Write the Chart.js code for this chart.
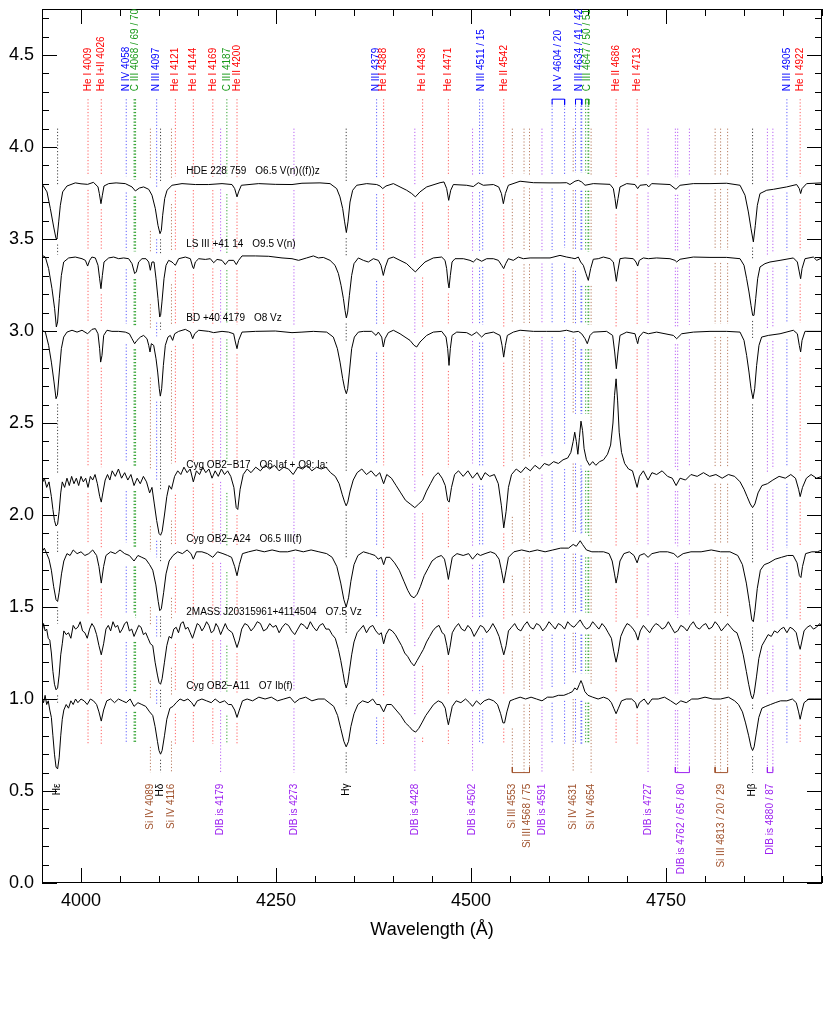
<!DOCTYPE html>
<html><head><meta charset="utf-8">
<script src="https://cdn.jsdelivr.net/npm/chart.js@4.4.1/dist/chart.umd.min.js"></script>
<style>html,body{margin:0;padding:0;background:#fff;}#wrap{width:830px;height:1017px;}</style>
</head><body><div id="wrap"><canvas id="c" width="830" height="1017"></canvas></div>
<script>
// ---------------- DATA ----------------
const xLimits = [3950, 4950];
const yLimits = [0, 4.75];
const xMajorTicks = [4000, 4250, 4500, 4750];
const yMajorTicks = [0, 0.5, 1.0, 1.5, 2.0, 2.5, 3.0, 3.5, 4.0, 4.5];

const starNames = ['HDE 228 759', 'LS III +41 14', 'BD +40 4179', 'Cyg OB2\u2212B17', 'Cyg OB2\u2212A24', '2MASS J20315961+4114504', 'Cyg OB2\u2212A11'];
const spectralTypes = ['O6.5 V(n)((f))z', 'O9.5 V(n)', 'O8 Vz', 'O6 Iaf + O9: Ia:', 'O6.5 III(f)', 'O7.5 Vz', 'O7 Ib(f)'];
const continuumLevels = [3.8, 3.4, 3.0, 2.2, 1.8, 1.4, 1.0];

const specHDE228759 = [[3950,3.80],[3956.4,3.756],[3960.7,3.665],[3965,3.565],[3968,3.502],[3969.2,3.50],[3971.4,3.593],[3973.5,3.683],[3976.5,3.756],[3982,3.788],[3992.7,3.805],[4000,3.80],[4008.5,3.797],[4016,3.808],[4021.8,3.783],[4023.5,3.747],[4025.6,3.692],[4027.4,3.738],[4029.5,3.788],[4035.5,3.801],[4045,3.805],[4056.8,3.801],[4065.4,3.783],[4069.7,3.761],[4074.8,3.777],[4080.3,3.783],[4086.8,3.77],[4091,3.738],[4095.3,3.665],[4098.7,3.574],[4101.3,3.529],[4103,3.547],[4104.7,3.629],[4107.3,3.72],[4110.3,3.765],[4116.7,3.792],[4129.5,3.801],[4146.6,3.796],[4163.7,3.796],[4180.8,3.801],[4193.6,3.796],[4197,3.774],[4200,3.729],[4202,3.756],[4205.6,3.792],[4227.8,3.801],[4249,3.797],[4270.5,3.796],[4283.3,3.803],[4306.4,3.805],[4319.3,3.801],[4327.8,3.774],[4332,3.729],[4335.5,3.665],[4338,3.593],[4340.2,3.535],[4342.3,3.593],[4344.9,3.701],[4348.3,3.765],[4353.5,3.792],[4366.3,3.801],[4379.1,3.796],[4383.4,3.788],[4386.8,3.774],[4391,3.788],[4400.5,3.801],[4409,3.783],[4417.5,3.765],[4424,3.747],[4428.7,3.729],[4434.6,3.756],[4443.2,3.783],[4460.3,3.806],[4465.4,3.81],[4468.8,3.774],[4471.4,3.71],[4474,3.765],[4477.4,3.796],[4494.5,3.792],[4503,3.785],[4509.4,3.806],[4515.8,3.792],[4528.7,3.796],[4535.5,3.783],[4539,3.747],[4541.5,3.692],[4544.1,3.747],[4547.9,3.792],[4562.9,3.814],[4580,3.806],[4600,3.805],[4614.1,3.805],[4622.6,3.806],[4626.9,3.796],[4633.3,3.814],[4637.6,3.819],[4641.9,3.81],[4646.2,3.792],[4656.8,3.801],[4678.2,3.797],[4682.5,3.774],[4684.6,3.72],[4686.3,3.665],[4688.5,3.72],[4691,3.783],[4699.6,3.801],[4710.3,3.796],[4713.7,3.774],[4716.7,3.792],[4725.2,3.796],[4727.8,3.783],[4731.6,3.801],[4755.1,3.796],[4762.8,3.77],[4768,3.792],[4785,3.801],[4806.4,3.801],[4827.8,3.803],[4844.9,3.792],[4851.3,3.738],[4855.6,3.647],[4859,3.556],[4862,3.484],[4864.5,3.574],[4867.1,3.683],[4870.5,3.747],[4879.1,3.765],[4887.6,3.77],[4904.7,3.783],[4917.5,3.796],[4920.9,3.774],[4922.6,3.747],[4924.4,3.774],[4930.3,3.801],[4950,3.805]];

const specLSIII4114 = [[3950,3.411],[3954.3,3.402],[3958.5,3.339],[3962.8,3.23],[3966.2,3.121],[3968.4,3.022],[3970,3.049],[3972.2,3.176],[3974.8,3.302],[3977.8,3.375],[3984.2,3.397],[3992.7,3.402],[4001.3,3.393],[4005.6,3.384],[4008.5,3.353],[4011.1,3.384],[4014,3.402],[4018.4,3.397],[4021.8,3.357],[4023.9,3.284],[4025.6,3.23],[4027.4,3.302],[4029.5,3.375],[4035.5,3.397],[4041.9,3.402],[4048.3,3.393],[4054.7,3.397],[4061.1,3.393],[4065.4,3.366],[4068.8,3.312],[4070.9,3.321],[4073.9,3.375],[4078.2,3.393],[4083.3,3.393],[4086.8,3.375],[4088.9,3.33],[4091,3.375],[4093.6,3.375],[4096.2,3.284],[4098.7,3.176],[4100.9,3.076],[4102.1,3.085],[4103.8,3.158],[4106.4,3.284],[4109,3.357],[4112.4,3.384],[4116.7,3.375],[4118.8,3.366],[4121,3.357],[4125.2,3.393],[4133.8,3.402],[4140.2,3.393],[4143.2,3.348],[4144.4,3.339],[4146.6,3.375],[4150.9,3.393],[4159.4,3.389],[4165.8,3.393],[4170.1,3.371],[4174.4,3.389],[4180.8,3.384],[4185,3.361],[4189.3,3.384],[4195.7,3.384],[4199.1,3.361],[4202.1,3.384],[4206.4,3.408],[4223.5,3.408],[4240.6,3.406],[4257.7,3.397],[4270.5,3.393],[4279,3.384],[4289.3,3.397],[4297.9,3.408],[4304.3,3.397],[4310.7,3.4],[4319.3,3.384],[4325.7,3.357],[4330,3.312],[4333.4,3.248],[4336.4,3.176],[4338.5,3.112],[4340.2,3.071],[4341.9,3.103],[4344.1,3.194],[4347,3.302],[4350,3.366],[4355.6,3.397],[4362,3.384],[4368.4,3.375],[4374.8,3.393],[4381.2,3.384],[4384.6,3.357],[4387.6,3.302],[4390.2,3.348],[4394,3.393],[4400.5,3.402],[4409,3.384],[4417.5,3.366],[4424,3.339],[4428.7,3.321],[4434.6,3.348],[4441,3.375],[4451.7,3.397],[4462.4,3.402],[4466.7,3.384],[4468.8,3.339],[4470.5,3.266],[4471.8,3.234],[4473.5,3.302],[4475.7,3.375],[4479.5,3.393],[4490.2,3.393],[4498.7,3.384],[4503,3.375],[4507.3,3.393],[4513.7,3.379],[4520.1,3.393],[4528.7,3.393],[4535.1,3.384],[4539.3,3.357],[4541.9,3.339],[4544.5,3.366],[4547.9,3.393],[4554.3,3.384],[4560.7,3.402],[4567.1,3.393],[4575.7,3.397],[4588.5,3.397],[4601.3,3.397],[4614.1,3.411],[4622.6,3.402],[4629,3.397],[4633.3,3.393],[4637.6,3.402],[4640.6,3.375],[4644,3.357],[4647.4,3.312],[4650.4,3.275],[4653.4,3.339],[4656.8,3.39],[4663.2,3.393],[4669.7,3.402],[4678.2,3.393],[4682.5,3.375],[4684.6,3.321],[4686.3,3.27],[4688,3.321],[4691,3.393],[4697.4,3.397],[4708.1,3.393],[4711.5,3.375],[4713.7,3.353],[4715.8,3.384],[4720.9,3.397],[4727.4,3.393],[4738,3.397],[4755.1,3.393],[4761.5,3.384],[4763.7,3.375],[4768,3.39],[4785,3.402],[4806.4,3.4],[4827.8,3.4],[4844.9,3.393],[4850,3.357],[4853.4,3.284],[4856.4,3.212],[4859,3.139],[4861.1,3.085],[4862.8,3.085],[4865,3.176],[4867.5,3.284],[4870.5,3.348],[4876.9,3.366],[4883.3,3.375],[4896.2,3.384],[4913.3,3.397],[4918.4,3.375],[4920.9,3.321],[4922.6,3.284],[4924.4,3.339],[4928.2,3.393],[4938.9,3.402],[4943.2,3.384],[4950,3.397]];

const specBD404179 = [[3950,3.004],[3954.3,2.994],[3958.5,2.922],[3962,2.831],[3965.4,2.723],[3968,2.632],[3969.7,2.65],[3972.2,2.777],[3974.8,2.904],[3977.8,2.967],[3982,2.994],[3988.5,3.004],[3994.9,2.994],[4001.3,3.004],[4008.5,2.985],[4014.1,3.009],[4018.4,3.013],[4021.8,2.985],[4023.9,2.904],[4025.2,2.831],[4026.9,2.867],[4029.1,2.976],[4033.3,3.004],[4039.7,2.998],[4048.3,2.998],[4056.8,2.994],[4062,2.985],[4065.4,2.958],[4068.8,2.931],[4071.8,2.949],[4076.1,2.967],[4080.3,2.976],[4084.6,2.958],[4086.8,2.922],[4088.5,2.886],[4090.2,2.931],[4093.2,2.922],[4096.2,2.849],[4098.3,2.777],[4100.4,2.686],[4101.7,2.646],[4103.4,2.686],[4105.6,2.813],[4108.1,2.922],[4111.5,2.967],[4114.5,2.976],[4117.5,2.949],[4120.1,2.985],[4125.2,2.998],[4133.8,3.009],[4140.2,2.994],[4143.2,2.958],[4145.7,2.985],[4150.9,3.004],[4163.7,2.998],[4170.1,2.991],[4180.8,2.998],[4189.3,2.994],[4195.7,2.985],[4197.9,2.94],[4200,2.904],[4202.1,2.949],[4206.4,2.994],[4223.5,2.998],[4249.1,3.0],[4270.5,2.991],[4283.3,2.994],[4297.9,2.998],[4315,2.994],[4323.5,2.967],[4328.7,2.904],[4332.1,2.831],[4335.5,2.741],[4338.1,2.686],[4340.2,2.659],[4341.9,2.686],[4344.1,2.777],[4347,2.904],[4350.5,2.967],[4355.6,2.994],[4362,2.998],[4372.7,2.998],[4378.2,2.976],[4381.2,2.994],[4385.5,2.967],[4387.6,2.913],[4389.8,2.958],[4394,2.991],[4400.5,3.004],[4409,2.985],[4415.4,2.967],[4421.8,2.949],[4427,2.922],[4430.4,2.913],[4434.6,2.94],[4443.2,2.976],[4451.7,2.994],[4462.4,2.998],[4468,2.967],[4470.1,2.904],[4471.8,2.813],[4473.5,2.904],[4475.7,2.976],[4481.7,2.994],[4494.5,2.991],[4500.9,2.976],[4507.3,2.994],[4513.7,2.967],[4518,2.985],[4528.7,2.994],[4537.2,2.976],[4539.8,2.922],[4541.9,2.858],[4544.1,2.922],[4546.6,2.976],[4554.3,2.994],[4562.9,3.004],[4580,2.998],[4597,2.998],[4614.1,2.998],[4622.6,3.004],[4631.2,2.994],[4637.6,2.998],[4641.9,2.985],[4646.2,2.958],[4649.1,2.931],[4652.6,2.976],[4656.8,2.994],[4673.9,2.998],[4681.6,2.976],[4684.2,2.886],[4686.3,2.795],[4688.5,2.886],[4691,2.976],[4699.6,2.994],[4710.3,2.985],[4712.4,2.949],[4713.7,2.931],[4715.4,2.967],[4720.9,2.994],[4727.4,2.985],[4738,2.994],[4759.4,2.976],[4763.7,2.958],[4770.1,2.985],[4785,2.994],[4806.4,2.998],[4827.8,2.998],[4844.9,2.994],[4850,2.949],[4853.4,2.867],[4856.4,2.777],[4859,2.686],[4861.5,2.632],[4863.7,2.686],[4866.2,2.813],[4869.2,2.922],[4872.6,2.967],[4881.2,2.976],[4896.2,2.985],[4913.3,3.004],[4918.4,2.985],[4920.9,2.922],[4922.6,2.886],[4924.4,2.949],[4928.2,2.998],[4950,2.998]];

const specCygB17 = [[3950,2.17],[3953,2.20],[3956,2.15],[3959,2.18],[3962,2.10],[3964,2.03],[3966,1.97],[3968,1.94],[3970,1.95],[3972,2.02],[3974,2.12],[3976,2.18],[3979,2.15],[3982,2.20],[3985,2.16],[3988,2.21],[3991,2.17],[3994,2.20],[3997,2.16],[4000,2.21],[4003,2.18],[4006,2.20],[4009,2.15],[4012,2.21],[4015,2.19],[4018,2.22],[4021,2.17],[4024,2.10],[4026,2.07],[4028,2.12],[4031,2.19],[4034,2.22],[4037,2.19],[4040,2.24],[4044,2.21],[4048,2.25],[4052,2.20],[4056,2.23],[4060,2.19],[4064,2.22],[4068,2.16],[4072,2.20],[4076,2.17],[4080,2.21],[4084,2.18],[4088,2.12],[4091,2.15],[4094,2.06],[4097,1.97],[4100,1.90],[4102,1.89],[4104,1.91],[4107,2.00],[4110,2.10],[4113,2.16],[4116,2.14],[4120,2.21],[4124,2.24],[4128,2.22],[4132,2.26],[4136,2.23],[4140,2.25],[4144,2.18],[4148,2.24],[4152,2.22],[4156,2.26],[4160,2.23],[4164,2.25],[4168,2.20],[4172,2.24],[4176,2.21],[4180,2.25],[4184,2.22],[4188,2.24],[4192,2.21],[4196,2.15],[4199,2.04],[4201,2.03],[4204,2.14],[4208,2.22],[4213,2.25],[4218,2.23],[4224,2.26],[4230,2.24],[4236,2.27],[4242,2.25],[4248,2.27],[4254,2.24],[4260,2.26],[4266,2.25],[4272,2.22],[4278,2.26],[4284,2.25],[4290,2.27],[4296,2.24],[4302,2.26],[4308,2.25],[4314,2.26],[4320,2.23],[4326,2.21],[4331,2.17],[4335,2.11],[4338,2.07],[4340,2.05],[4342,2.07],[4345,2.13],[4349,2.19],[4354,2.23],[4360,2.25],[4366,2.22],[4372,2.24],[4378,2.21],[4383,2.23],[4388,2.17],[4392,2.22],[4398,2.20],[4404,2.16],[4410,2.12],[4416,2.08],[4422,2.06],[4428,2.04],[4433,2.06],[4438,2.08],[4443,2.13],[4448,2.17],[4453,2.21],[4458,2.23],[4463,2.20],[4467,2.16],[4470,2.08],[4472,2.07],[4475,2.15],[4479,2.22],[4484,2.24],[4490,2.21],[4496,2.24],[4502,2.20],[4508,2.23],[4513,2.19],[4518,2.23],[4524,2.21],[4530,2.22],[4535,2.17],[4539,2.05],[4542,1.93],[4545,2.02],[4548,2.15],[4552,2.22],[4558,2.25],[4564,2.23],[4570,2.26],[4576,2.24],[4582,2.27],[4588,2.25],[4594,2.28],[4600,2.27],[4606,2.29],[4612,2.28],[4618,2.30],[4624,2.31],[4628,2.34],[4631,2.40],[4633,2.45],[4635,2.40],[4637,2.33],[4639,2.42],[4641,2.51],[4643,2.46],[4645,2.36],[4648,2.30],[4652,2.27],[4656,2.29],[4660,2.27],[4665,2.29],[4670,2.30],[4675,2.33],[4679,2.38],[4682,2.50],[4684,2.65],[4686,2.74],[4688,2.62],[4690,2.45],[4693,2.34],[4697,2.28],[4702,2.25],[4707,2.24],[4711,2.18],[4713,2.15],[4716,2.21],[4721,2.24],[4727,2.19],[4732,2.23],[4738,2.22],[4745,2.24],[4752,2.21],[4758,2.20],[4763,2.16],[4768,2.20],[4775,2.19],[4782,2.22],[4790,2.21],[4798,2.23],[4806,2.21],[4814,2.22],[4822,2.20],[4830,2.22],[4838,2.21],[4845,2.18],[4850,2.14],[4854,2.10],[4858,2.06],[4861,2.04],[4864,2.06],[4868,2.12],[4873,2.16],[4880,2.17],[4887,2.19],[4895,2.21],[4903,2.20],[4910,2.22],[4916,2.20],[4920,2.14],[4922,2.10],[4925,2.15],[4930,2.20],[4936,2.22],[4943,2.20],[4950,2.21]];

const specCygA24 = [[3950,1.80],[3953,1.82],[3956,1.79],[3959,1.76],[3962,1.70],[3965,1.61],[3968,1.54],[3970,1.53],[3972,1.58],[3975,1.68],[3978,1.75],[3982,1.79],[3986,1.78],[3990,1.81],[3995,1.79],[4000,1.80],[4005,1.78],[4010,1.79],[4015,1.81],[4020,1.78],[4023,1.72],[4026,1.63],[4029,1.72],[4032,1.78],[4038,1.80],[4044,1.79],[4050,1.81],[4056,1.79],[4062,1.78],[4068,1.75],[4073,1.78],[4078,1.77],[4083,1.76],[4088,1.73],[4092,1.70],[4096,1.62],[4099,1.53],[4101,1.48],[4103,1.49],[4106,1.58],[4109,1.68],[4113,1.75],[4118,1.78],[4124,1.80],[4130,1.79],[4136,1.81],[4141,1.79],[4144,1.76],[4148,1.80],[4155,1.80],[4162,1.79],[4169,1.77],[4175,1.80],[4182,1.79],[4188,1.78],[4193,1.77],[4197,1.72],[4200,1.67],[4203,1.73],[4207,1.79],[4215,1.80],[4225,1.81],[4235,1.80],[4245,1.81],[4255,1.80],[4265,1.80],[4275,1.81],[4285,1.80],[4295,1.81],[4305,1.80],[4315,1.79],[4322,1.77],[4328,1.72],[4333,1.63],[4337,1.54],[4340,1.50],[4343,1.55],[4346,1.64],[4350,1.73],[4355,1.78],[4362,1.80],[4370,1.79],[4377,1.78],[4381,1.76],[4385,1.77],[4388,1.73],[4391,1.77],[4396,1.77],[4402,1.74],[4408,1.70],[4414,1.64],[4419,1.59],[4423,1.56],[4427,1.55],[4431,1.57],[4435,1.61],[4440,1.67],[4445,1.71],[4450,1.75],[4456,1.77],[4462,1.78],[4466,1.76],[4469,1.70],[4471,1.65],[4473,1.70],[4476,1.77],[4482,1.79],[4490,1.78],[4497,1.79],[4502,1.76],[4508,1.79],[4512,1.78],[4518,1.79],[4525,1.80],[4531,1.79],[4536,1.76],[4539,1.70],[4542,1.63],[4545,1.70],[4548,1.77],[4555,1.80],[4565,1.81],[4575,1.80],[4585,1.81],[4595,1.80],[4605,1.81],[4615,1.82],[4625,1.82],[4631,1.84],[4635,1.83],[4640,1.86],[4643,1.84],[4648,1.81],[4655,1.80],[4663,1.80],[4670,1.80],[4677,1.79],[4681,1.75],[4684,1.68],[4686,1.63],[4688,1.67],[4691,1.75],[4696,1.79],[4703,1.80],[4709,1.78],[4713,1.74],[4716,1.78],[4722,1.79],[4727,1.77],[4732,1.79],[4742,1.80],[4752,1.80],[4760,1.79],[4765,1.77],[4772,1.79],[4782,1.80],[4795,1.80],[4808,1.81],[4820,1.80],[4832,1.80],[4842,1.78],[4848,1.73],[4853,1.63],[4857,1.52],[4860,1.43],[4862,1.42],[4864,1.48],[4867,1.60],[4871,1.70],[4876,1.73],[4882,1.74],[4890,1.76],[4898,1.77],[4906,1.78],[4913,1.78],[4918,1.74],[4921,1.67],[4923,1.66],[4925,1.72],[4929,1.79],[4937,1.80],[4944,1.80],[4950,1.81]];

const spec2MASS = [[3950,1.36],[3952,1.41],[3954,1.37],[3956,1.38],[3958,1.33],[3960,1.32],[3962,1.25],[3964,1.15],[3966,1.08],[3968,1.05],[3970,1.06],[3972,1.13],[3974,1.24],[3976,1.30],[3978,1.37],[3981,1.35],[3984,1.36],[3987,1.33],[3990,1.40],[3993,1.38],[3996,1.39],[3999,1.42],[4002,1.37],[4005,1.36],[4008,1.33],[4011,1.38],[4014,1.41],[4017,1.39],[4020,1.35],[4023,1.29],[4026,1.24],[4029,1.30],[4032,1.38],[4035,1.40],[4038,1.37],[4041,1.42],[4044,1.39],[4047,1.40],[4050,1.36],[4053,1.38],[4056,1.41],[4059,1.42],[4062,1.37],[4065,1.38],[4068,1.34],[4071,1.37],[4074,1.40],[4077,1.39],[4080,1.35],[4083,1.36],[4086,1.33],[4089,1.30],[4092,1.29],[4095,1.20],[4098,1.13],[4100,1.09],[4102,1.08],[4104,1.11],[4107,1.20],[4110,1.29],[4113,1.34],[4116,1.33],[4119,1.38],[4122,1.39],[4125,1.36],[4128,1.41],[4131,1.42],[4134,1.38],[4137,1.39],[4140,1.36],[4143,1.33],[4146,1.37],[4149,1.41],[4152,1.40],[4155,1.37],[4158,1.39],[4161,1.42],[4164,1.40],[4167,1.36],[4170,1.37],[4173,1.41],[4176,1.39],[4179,1.35],[4182,1.38],[4185,1.41],[4188,1.38],[4191,1.37],[4194,1.36],[4197,1.32],[4200,1.28],[4203,1.32],[4206,1.38],[4210,1.41],[4214,1.40],[4218,1.37],[4222,1.39],[4226,1.42],[4230,1.41],[4234,1.37],[4238,1.38],[4242,1.41],[4246,1.39],[4250,1.40],[4254,1.36],[4258,1.39],[4262,1.41],[4266,1.40],[4270,1.37],[4274,1.35],[4278,1.38],[4282,1.41],[4286,1.40],[4290,1.38],[4294,1.42],[4298,1.39],[4302,1.37],[4306,1.40],[4310,1.41],[4314,1.38],[4318,1.38],[4322,1.35],[4326,1.33],[4330,1.27],[4333,1.21],[4336,1.14],[4338,1.09],[4340,1.06],[4342,1.09],[4344,1.15],[4347,1.24],[4350,1.31],[4354,1.36],[4358,1.38],[4362,1.40],[4366,1.36],[4370,1.39],[4374,1.40],[4378,1.37],[4382,1.35],[4385,1.36],[4388,1.30],[4391,1.35],[4395,1.38],[4399,1.37],[4403,1.35],[4407,1.32],[4411,1.29],[4415,1.25],[4419,1.23],[4423,1.20],[4427,1.18],[4431,1.21],[4435,1.24],[4439,1.27],[4443,1.31],[4447,1.34],[4451,1.37],[4455,1.39],[4459,1.40],[4463,1.36],[4466,1.35],[4469,1.29],[4471,1.24],[4473,1.28],[4476,1.36],[4480,1.39],[4484,1.41],[4488,1.38],[4492,1.37],[4496,1.40],[4500,1.38],[4504,1.34],[4508,1.37],[4512,1.40],[4516,1.39],[4520,1.36],[4524,1.38],[4528,1.41],[4532,1.38],[4536,1.34],[4539,1.29],[4542,1.24],[4545,1.29],[4548,1.37],[4552,1.39],[4556,1.41],[4560,1.38],[4564,1.37],[4568,1.40],[4572,1.42],[4576,1.39],[4580,1.38],[4584,1.41],[4588,1.40],[4592,1.37],[4596,1.39],[4600,1.42],[4604,1.40],[4608,1.38],[4612,1.41],[4616,1.40],[4620,1.38],[4624,1.42],[4628,1.40],[4632,1.39],[4636,1.41],[4640,1.43],[4644,1.40],[4648,1.38],[4652,1.39],[4656,1.42],[4660,1.40],[4664,1.38],[4668,1.41],[4672,1.39],[4676,1.36],[4680,1.33],[4683,1.26],[4686,1.20],[4689,1.26],[4692,1.34],[4696,1.38],[4700,1.41],[4704,1.40],[4708,1.38],[4711,1.36],[4714,1.32],[4717,1.37],[4721,1.40],[4725,1.38],[4729,1.36],[4733,1.39],[4737,1.41],[4741,1.40],[4745,1.38],[4749,1.39],[4753,1.42],[4757,1.39],[4761,1.36],[4765,1.37],[4769,1.40],[4773,1.39],[4777,1.37],[4781,1.40],[4785,1.42],[4789,1.39],[4793,1.38],[4797,1.40],[4801,1.41],[4805,1.38],[4809,1.39],[4813,1.42],[4817,1.40],[4821,1.37],[4825,1.39],[4829,1.41],[4833,1.39],[4837,1.37],[4841,1.36],[4845,1.31],[4849,1.24],[4853,1.15],[4856,1.08],[4859,1.02],[4861,1.00],[4863,1.03],[4866,1.12],[4869,1.22],[4873,1.29],[4877,1.32],[4881,1.35],[4885,1.34],[4889,1.37],[4893,1.36],[4897,1.38],[4901,1.39],[4905,1.36],[4909,1.39],[4913,1.38],[4917,1.36],[4920,1.30],[4922,1.27],[4924,1.31],[4927,1.37],[4931,1.39],[4935,1.40],[4939,1.38],[4943,1.39],[4947,1.41],[4950,1.39]];

const specCygA11 = [[3950,1.01],[3952,0.98],[3954,1.02],[3956,0.97],[3958,0.99],[3960,0.94],[3962,0.90],[3964,0.80],[3966,0.70],[3968,0.63],[3970,0.62],[3972,0.68],[3974,0.80],[3976,0.89],[3978,0.94],[3981,0.97],[3984,0.95],[3987,0.99],[3990,0.97],[3993,1.00],[3996,0.98],[4000,1.00],[4004,0.99],[4008,0.97],[4012,1.00],[4016,0.99],[4020,0.97],[4023,0.93],[4026,0.88],[4029,0.94],[4033,0.99],[4038,1.00],[4043,0.98],[4048,1.00],[4053,0.99],[4058,0.98],[4063,1.00],[4068,0.96],[4073,0.98],[4078,0.97],[4083,0.96],[4088,0.93],[4092,0.91],[4095,0.85],[4098,0.77],[4100,0.72],[4102,0.70],[4104,0.72],[4107,0.80],[4110,0.89],[4114,0.95],[4118,0.96],[4122,0.98],[4127,1.00],[4132,0.99],[4137,1.00],[4142,0.98],[4145,0.96],[4149,0.99],[4155,1.00],[4161,0.99],[4167,0.98],[4172,1.00],[4178,0.98],[4184,0.99],[4189,0.97],[4193,0.97],[4197,0.94],[4200,0.90],[4203,0.94],[4207,0.99],[4213,1.00],[4220,0.99],[4228,1.01],[4236,1.00],[4244,1.01],[4252,0.99],[4260,1.00],[4268,1.01],[4274,0.98],[4280,1.00],[4288,1.01],[4296,0.99],[4304,1.00],[4312,1.00],[4318,0.98],[4324,0.96],[4329,0.91],[4333,0.84],[4337,0.77],[4340,0.74],[4343,0.77],[4346,0.85],[4350,0.92],[4355,0.97],[4361,0.99],[4368,0.98],[4374,1.00],[4379,0.97],[4383,0.97],[4388,0.93],[4392,0.97],[4398,0.97],[4404,0.94],[4410,0.91],[4416,0.87],[4421,0.85],[4425,0.83],[4429,0.82],[4433,0.84],[4437,0.87],[4442,0.91],[4447,0.94],[4452,0.97],[4458,0.99],[4463,0.98],[4467,0.95],[4469,0.90],[4471,0.86],[4473,0.90],[4476,0.96],[4481,0.99],[4487,0.98],[4493,1.00],[4498,0.98],[4502,0.96],[4507,0.99],[4512,0.97],[4517,0.99],[4523,1.00],[4529,0.99],[4534,0.97],[4538,0.92],[4541,0.87],[4543,0.87],[4546,0.93],[4550,0.99],[4556,1.00],[4563,1.01],[4570,1.00],[4577,1.01],[4584,1.00],[4591,0.99],[4598,1.01],[4605,1.01],[4612,1.02],[4619,1.02],[4625,1.03],[4630,1.04],[4633,1.06],[4636,1.05],[4639,1.08],[4641,1.10],[4643,1.08],[4646,1.04],[4650,1.02],[4656,1.01],[4663,1.00],[4670,1.01],[4676,1.00],[4680,0.98],[4683,0.95],[4686,0.92],[4689,0.95],[4693,0.99],[4699,1.00],[4706,1.00],[4711,0.98],[4713,0.95],[4716,0.98],[4722,1.00],[4727,0.97],[4732,1.00],[4740,1.00],[4748,1.01],[4756,0.99],[4763,0.97],[4769,0.99],[4776,0.98],[4783,1.00],[4791,1.00],[4800,1.01],[4810,1.00],[4820,1.00],[4830,1.01],[4838,0.99],[4843,0.97],[4848,0.93],[4852,0.87],[4856,0.80],[4859,0.74],[4861,0.72],[4863,0.74],[4866,0.82],[4869,0.90],[4873,0.95],[4878,0.96],[4884,0.97],[4890,0.98],[4897,0.99],[4905,0.99],[4912,1.00],[4917,0.98],[4920,0.93],[4922,0.89],[4924,0.93],[4927,0.98],[4933,1.00],[4940,1.00],[4950,1.00]];

const spectra = [specHDE228759, specLSIII4114, specBD404179, specCygB17, specCygA24, spec2MASS, specCygA11];

// line identifications (upper set)
const topLabels = ['He I 4009','He I+II 4026','N IV 4058','C III 4068 / 69 / 70','N III 4097','He I 4121','He I 4144','He I 4169','C III 4187','He II 4200','N III 4379','He I 4388','He I 4438','He I 4471','N III 4511 / 15','He II 4542','N V 4604 / 20','N III 4634 / 41 / 42','C III 4647 / 50 / 51','He II 4686','He I 4713','N III 4905','He I 4922'];
const topWaves = [[4009],[4026],[4058],[4068,4069,4070],[4097],[4121],[4144],[4169],[4187],[4200],[4379],[4388],[4438],[4471],[4511,4515],[4542],[4604,4620],[4634,4641,4642],[4647,4650,4651],[4686],[4713],[4905],[4922]];
const topSpecies = ['He','He','N','C','N','He','He','He','C','He','N','He','He','He','N','He','N','N','C','He','He','N','He'];
const topBrackets = [[4604,4620,'N'],[4634,4642,'N'],[4647,4651,'C']];

// lower set (hydrogen, Si, DIBs)
const bottomLabels = ['H\u03b5','Si IV 4089','H\u03b4','Si IV 4116','DIB is 4179','DIB is 4273','H\u03b3','DIB is 4428','DIB is 4502','Si III 4553','Si III 4568 / 75','DIB is 4591','Si IV 4631','Si IV 4654','DIB is 4727','DIB is 4762 / 65 / 80','Si III 4813 / 20 / 29','H\u03b2','DIB is 4880 / 87'];
const bottomWaves = [[3970],[4089],[4102],[4116],[4179],[4273],[4340],[4428],[4502],[4553],[4568,4575],[4591],[4631],[4654],[4727],[4762,4765,4780],[4813,4820,4829],[4861],[4880,4887]];
const bottomSpecies = ['H','Si','H','Si','DIB','DIB','H','DIB','DIB','Si','Si','DIB','Si','Si','DIB','DIB','Si','H','DIB'];
const bottomBrackets = [[4553,4575,'Si'],[4762,4780,'DIB'],[4813,4829,'Si'],[4880,4887,'DIB']];

// ---------------- STYLE ----------------
const textColor = {He:'#ff0000', N:'#0000ff', C:'#1a9a1a', H:'#000000', Si:'#a0522d', DIB:'#9b1ff0'};
const lineColor = {He:'rgba(255,40,40,0.75)', N:'rgba(40,40,255,0.75)', C:'rgba(20,150,20,0.9)', H:'rgba(0,0,0,0.75)', Si:'rgba(160,82,45,0.75)', DIB:'rgba(155,31,240,0.7)'};
const TOP_START = 4.26, TOP_END = 0.756, BOT_START = 4.10, BOT_END = 0.60;
const FONT = "'Liberation Sans Narrow','Liberation Sans',Arial,sans-serif";

function gapFor(spec, lam) {
  let lo = Infinity, hi = -Infinity;
  for (let i = 0; i < spec.length; i++) {
    const [w, f] = spec[i];
    if (Math.abs(w - lam) <= 10) { lo = Math.min(lo, f); hi = Math.max(hi, f); }
    if (i > 0 && spec[i-1][0] <= lam && w >= lam) {
      const t = (lam - spec[i-1][0]) / (w - spec[i-1][0]);
      const v = spec[i-1][1] + t * (f - spec[i-1][1]);
      lo = Math.min(lo, v); hi = Math.max(hi, v);
    }
  }
  return [hi + 0.04, lo - 0.03];
}
function markerData(lam, start, end) {
  const pts = [];
  let cur = start;
  spectra.forEach(s => {
    const [gt, gb] = gapFor(s, lam);
    if (gt < cur) { pts.push({x: lam, y: cur}, {x: lam, y: gt}, {x: lam, y: null}); }
    cur = Math.min(cur, gb);
  });
  if (cur > end) pts.push({x: lam, y: cur}, {x: lam, y: end});
  return pts;
}

const datasets = [];
spectra.forEach(s => datasets.push({data: s.map(p => ({x: p[0], y: p[1]})), borderColor: '#000', borderWidth: 1, pointRadius: 0, tension: 0, order: 0}));
topWaves.forEach((ws, i) => ws.forEach(w => datasets.push({data: markerData(w, TOP_START, TOP_END), borderColor: lineColor[topSpecies[i]], borderWidth: 1, borderDash: [1.2, 2], pointRadius: 0, order: 2, spanGaps: false})));
bottomWaves.forEach((ws, i) => ws.forEach(w => datasets.push({data: markerData(w, BOT_START, BOT_END), borderColor: lineColor[bottomSpecies[i]], borderWidth: 1, borderDash: [1.2, 2], pointRadius: 0, order: 2, spanGaps: false})));
topBrackets.forEach(b => datasets.push({data: [{x:b[0],y:TOP_START-0.03},{x:b[0],y:TOP_START},{x:b[1],y:TOP_START},{x:b[1],y:TOP_START-0.03}], borderColor: textColor[b[2]], borderWidth: 1, pointRadius: 0, order: 1}));
bottomBrackets.forEach(b => datasets.push({data: [{x:b[0],y:BOT_END+0.03},{x:b[0],y:BOT_END},{x:b[1],y:BOT_END},{x:b[1],y:BOT_END+0.03}], borderColor: textColor[b[2]], borderWidth: 1, pointRadius: 0, order: 1}));

const mean = a => a.reduce((s, v) => s + v, 0) / a.length;

const decor = {
  id: 'decor',
  afterDraw(chart) {
    const {ctx, chartArea: a, scales: {x, y}} = chart;
    ctx.save();
    ctx.strokeStyle = '#000'; ctx.lineWidth = 1;
    ctx.strokeRect(a.left + 0.5, a.top + 0.5, a.right - a.left - 1, a.bottom - a.top - 1);
    ctx.beginPath();
    for (let v = xLimits[0]; v <= xLimits[1] + 1e-6; v += 50) {
      const px = Math.round(x.getPixelForValue(v)) + 0.5;
      const L = xMajorTicks.includes(v) ? 15 : 7;
      ctx.moveTo(px, a.bottom); ctx.lineTo(px, a.bottom - L);
      ctx.moveTo(px, a.top); ctx.lineTo(px, a.top + L);
    }
    for (let k = 0; k <= 47; k++) {
      const py = Math.round(y.getPixelForValue(k / 10)) + 0.5;
      const L = (k % 5 === 0) ? 15 : 7;
      ctx.moveTo(a.left, py); ctx.lineTo(a.left + L, py);
      ctx.moveTo(a.right, py); ctx.lineTo(a.right - L, py);
    }
    ctx.stroke();
    ctx.font = '10px ' + FONT;
    ctx.fillStyle = '#000'; ctx.textAlign = 'left'; ctx.textBaseline = 'middle';
    starNames.forEach((n, i) => {
      const px = x.getPixelForValue(4135), py = y.getPixelForValue(continuumLevels[i] + 0.07);
      ctx.fillText(n, px, py);
      ctx.fillText(spectralTypes[i], px + ctx.measureText(n).width + 9, py);
    });
    const yTop = y.getPixelForValue(TOP_START) - 8;
    topLabels.forEach((t, i) => {
      ctx.save();
      ctx.translate(x.getPixelForValue(mean(topWaves[i])), yTop);
      ctx.rotate(-Math.PI / 2);
      ctx.fillStyle = textColor[topSpecies[i]];
      ctx.textAlign = 'left'; ctx.textBaseline = 'middle';
      ctx.fillText(t, 0, 0);
      ctx.restore();
    });
    const yBot = y.getPixelForValue(BOT_END) + 11;
    bottomLabels.forEach((t, i) => {
      ctx.save();
      ctx.translate(x.getPixelForValue(mean(bottomWaves[i])), yBot);
      ctx.rotate(-Math.PI / 2);
      ctx.fillStyle = textColor[bottomSpecies[i]];
      ctx.textAlign = 'right'; ctx.textBaseline = 'middle';
      ctx.fillText(t, 0, 0);
      ctx.restore();
    });
    ctx.restore();
  }
};

new Chart(document.getElementById('c'), {
  type: 'line',
  data: {datasets},
  options: {
    responsive: false, animation: false, devicePixelRatio: 1, events: [],
    layout: {padding: {top: 9, right: 8, left: 0, bottom: 0}},
    plugins: {legend: {display: false}, tooltip: {enabled: false}},
    scales: {
      x: {
        type: 'linear', min: xLimits[0], max: xLimits[1],
        afterBuildTicks: s => { s.ticks = xMajorTicks.map(v => ({value: v})); },
        afterFit: s => { s.height = 134; s.paddingLeft = 0; s.paddingRight = 0; },
        grid: {display: false, drawTicks: false}, border: {display: false},
        ticks: {color: '#000', padding: 7, maxRotation: 0, font: {family: FONT, size: 18}, callback: v => String(v)},
        title: {display: true, text: 'Wavelength (\u00c5)', color: '#000', font: {family: FONT, size: 18}, padding: {top: 0, bottom: 76}}
      },
      y: {
        type: 'linear', min: yLimits[0], max: yLimits[1],
        afterBuildTicks: s => { s.ticks = yMajorTicks.map(v => ({value: v})); },
        afterFit: s => { s.width = 42; s.paddingTop = 0; s.paddingBottom = 0; },
        grid: {display: false, drawTicks: false}, border: {display: false},
        ticks: {color: '#000', padding: 8, font: {family: FONT, size: 18}, callback: v => Number(v).toFixed(1)}
      }
    }
  },
  plugins: [decor]
});
</script></body></html>
